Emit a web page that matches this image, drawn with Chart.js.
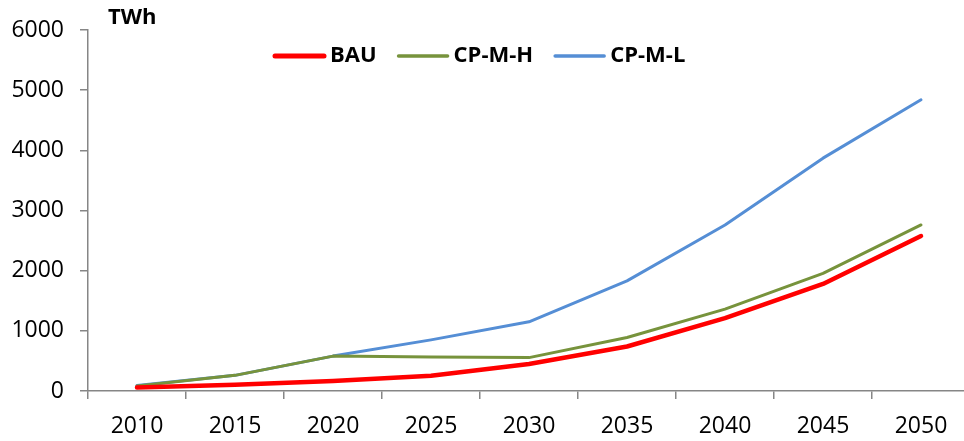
<!DOCTYPE html>
<html>
<head>
<meta charset="utf-8">
<script src="https://cdn.jsdelivr.net/npm/chart.js@4/dist/chart.umd.min.js"></script>
<style>
  html, body { margin: 0; padding: 0; background: #fff; overflow: hidden; }
  #wrap { width: 972px; height: 441px; position: relative; }
</style>
</head>
<body>
<div id="wrap"><canvas id="chart"></canvas></div>
<script>
  // values (TWh)
  var years  = ['2010', '2015', '2020', '2025', '2030', '2035', '2040', '2045', '2050'];
  var bau    = [60, 105, 165, 255, 450, 740, 1210, 1780, 2575];
  var cpmh   = [85, 260, 580, 565, 555, 890, 1360, 1955, 2760];
  var cpml   = [90, 260, 580, 850, 1150, 1830, 2760, 3870, 4840];
  var yTicks = [0, 1000, 2000, 3000, 4000, 5000, 6000];

  var FONT = "'Open Sans', sans-serif";
  var axisColor = '#868686';

  // "TWh" unit label + horizontal legend drawn inside the plot area
  var overlay = {
    id: 'overlay',
    afterDraw: function (chart) {
      var ctx = chart.ctx;
      ctx.save();
      ctx.font = 'bold 22px ' + FONT;
      ctx.fillStyle = '#000';
      ctx.textBaseline = 'middle';
      ctx.fillText('TWh', chart.chartArea.left + 20, 18);

      var x = 275, y = 56;
      chart.data.datasets.forEach(function (d) {
        ctx.strokeStyle = d.borderColor;
        ctx.lineWidth = d.borderWidth + 0.5;
        ctx.lineCap = 'round';
        ctx.beginPath();
        ctx.moveTo(x, y);
        ctx.lineTo(x + 49, y);
        ctx.stroke();
        ctx.fillStyle = '#000';
        ctx.fillText(d.label, x + 55, y);
        x += 55 + ctx.measureText(d.label).width + 22;
      });
      ctx.restore();
    }
  };

  function ds(label, data, color, width) {
    return {
      label: label, data: data,
      borderColor: color, backgroundColor: color,
      borderWidth: width, pointRadius: 0, tension: 0,
      borderCapStyle: 'round', borderJoinStyle: 'round'
    };
  }

  new Chart(document.getElementById('chart'), {
    type: 'line',
    data: {
      labels: years,
      datasets: [
        ds('BAU', bau, '#FF0000', 4.5),
        ds('CP-M-H', cpmh, '#77933C', 3),
        ds('CP-M-L', cpml, '#558ED5', 3)
      ]
    },
    options: {
      responsive: true, maintainAspectRatio: false, animation: false,
      layout: { padding: { top: 30, right: 2, left: 0, bottom: 0 } },
      plugins: {
        tooltip: { enabled: false },
        legend: { display: false }
      },
      scales: {
        x: {
          offset: true,
          grid: { offset: true, drawOnChartArea: false, color: axisColor, tickLength: 8, lineWidth: 1.5 },
          border: { color: axisColor, width: 1.5 },
          ticks: { font: { family: FONT, size: 23 }, color: '#000', padding: 14, maxRotation: 0 },
          afterFit: function (s) { s.height = 50; }
        },
        y: {
          min: 0, max: 6000,
          afterBuildTicks: function (s) { s.ticks = yTicks.map(function (v) { return { value: v }; }); },
          grid: { drawOnChartArea: false, color: axisColor, tickLength: 8, lineWidth: 1.5 },
          border: { color: axisColor, width: 1.5 },
          ticks: {
            font: { family: FONT, size: 23 }, color: '#000', padding: 16,
            callback: function (v) { return String(v); }
          },
          afterFit: function (s) { s.width = 88; }
        }
      }
    },
    plugins: [overlay]
  });
</script>
</body>
</html>
